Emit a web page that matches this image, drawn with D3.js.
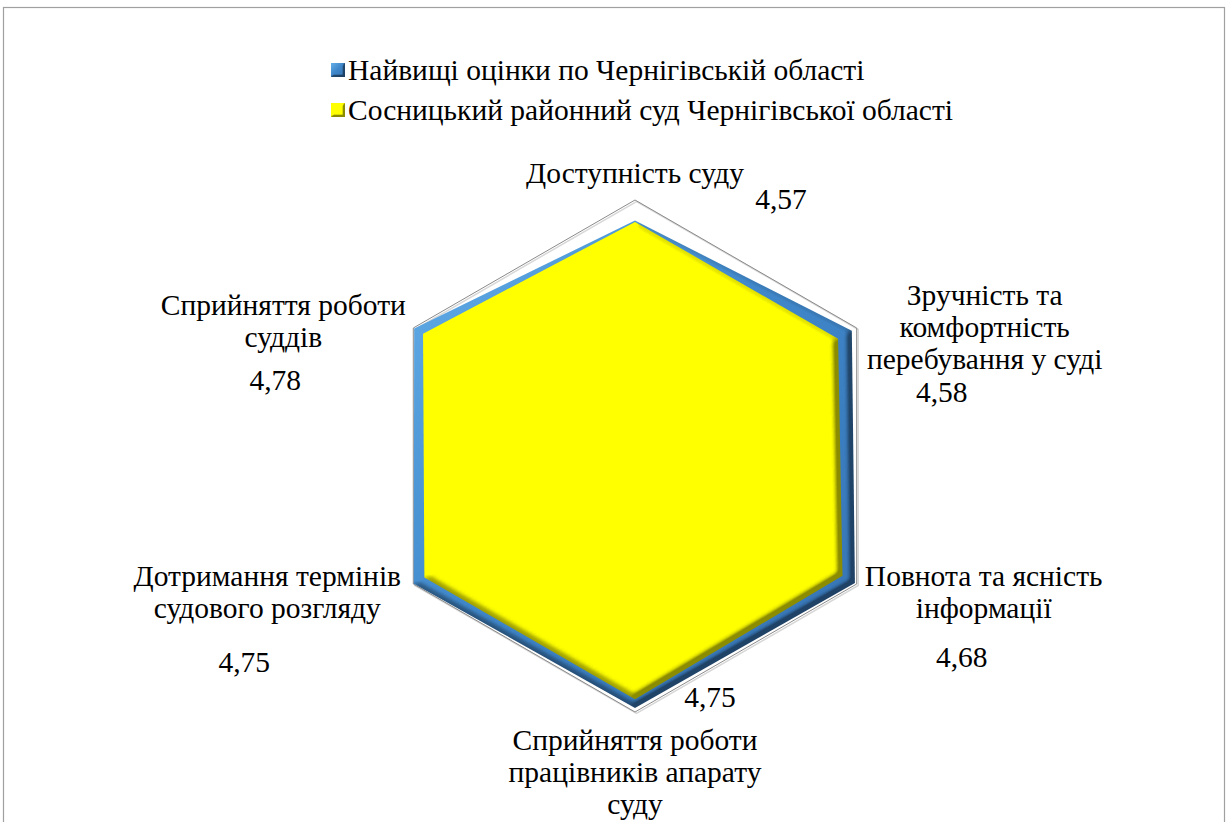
<!DOCTYPE html>
<html>
<head>
<meta charset="UTF-8">
<script src="https://cdn.jsdelivr.net/npm/d3@7"></script>
<style>
  body { margin: 0; background: #fff; }
  #wrap { position: relative; width: 1228px; height: 822px; overflow: hidden; }
  #wrap svg { position: absolute; left: 0; top: 0; }
  .lbl { position: absolute; white-space: pre; font-family: "Liberation Serif", "Times New Roman", serif; color: #000; line-height: normal; }
  .mid { transform: translateX(-50%); }
</style>
</head>
<body>
<div id="wrap"></div>
<script>
const categories = [
  ["Доступність суду"],
  ["Зручність та", "комфортність", "перебування у суді"],
  ["Повнота та ясність", "інформації"],
  ["Сприйняття роботи", "працівників апарату", "суду"],
  ["Дотримання термінів", "судового розгляду"],
  ["Сприйняття роботи", "суддів"]
];
const seriesNames = [
  "Найвищі оцінки по Чернігівській області",
  "Сосницький районний суд Чернігівської області"
];
const regionBest = [4.60, 4.89, 4.96, 4.92, 4.99, 4.98];
const courtScores = [4.57, 4.58, 4.68, 4.75, 4.75, 4.78];
const axisMax = 5;

// label placement relative to the outer vertex (layout only)
const catOffset = [[0, -17], [128, -23], [127, 2], [0, 38], [-146, 2], [-130, -13]];
const valOffset = [[146, 9], [85, 74], [105, 83], [75, -5], [-169, 88], [-138, 62]];

const W = 1228, H = 822;
const cx = 635, cy = 456, R = 256;
const FS = 29.5;
const ASC = 0.891 * FS; // baseline offset of Liberation Serif

const wrap = d3.select("#wrap");
const svg = wrap.append("svg").attr("width", W).attr("height", H);

const defs = svg.append("defs");
function bevel(id, sd, scale) {
  const f = defs.append("filter").attr("id", id)
    .attr("color-interpolation-filters", "sRGB")
    .attr("x", "-10%").attr("y", "-10%").attr("width", "120%").attr("height", "120%");
  f.append("feGaussianBlur").attr("in", "SourceAlpha").attr("stdDeviation", sd).attr("result", "blur");
  f.append("feDiffuseLighting").attr("in", "blur").attr("surfaceScale", scale)
    .attr("diffuseConstant", 1.556).attr("lighting-color", "#fff").attr("result", "diff")
    .append("feDistantLight").attr("azimuth", 225).attr("elevation", 40);
  f.append("feComposite").attr("in", "SourceGraphic").attr("in2", "diff")
    .attr("operator", "arithmetic").attr("k1", 0.45).attr("k2", 0.55).attr("k3", 0).attr("k4", 0);
}
bevel("bevelBig", 3, 8);
bevel("bevelSmall", 1.2, 4);

const grad = defs.append("linearGradient").attr("id", "blueFill")
  .attr("x1", 0).attr("y1", 0).attr("x2", 1).attr("y2", 1);
grad.append("stop").attr("offset", 0).attr("stop-color", "#63afe9");
grad.append("stop").attr("offset", 0.45).attr("stop-color", "#4088cb");
grad.append("stop").attr("offset", 1).attr("stop-color", "#3572b2");

// chart frame
svg.append("rect")
  .attr("x", 3.5).attr("y", 7.5).attr("width", 1221).attr("height", 840)
  .attr("fill", "none").attr("stroke", "#a0a0a0").attr("stroke-width", 1.2);

const r = d3.scaleLinear().domain([0, axisMax]).range([0, R]);
const angle = d3.scaleLinear().domain([0, categories.length]).range([0, 2 * Math.PI]);

const pt = (v, i) => [cx + r(v) * Math.sin(angle(i)), cy - r(v) * Math.cos(angle(i))];
const line = d3.line().curve(d3.curveLinearClosed);

// outer grid hexagon with a faint shadow
const outer = categories.map((c, i) => pt(axisMax, i));
svg.append("path")
  .attr("d", line(outer))
  .attr("transform", "translate(1.5,1.5)")
  .attr("fill", "none").attr("stroke", "#d8d8d8").attr("stroke-width", 1.5);
svg.append("path")
  .attr("d", line(outer))
  .attr("fill", "none").attr("stroke", "#8a8a8a").attr("stroke-width", 1);

// series
svg.append("path")
  .attr("d", line(regionBest.map(pt)))
  .attr("fill", "url(#blueFill)")
  .attr("filter", "url(#bevelBig)");
svg.append("path")
  .attr("d", line(courtScores.map(pt)))
  .attr("fill", "#ffff00")
  .attr("filter", "url(#bevelBig)");

// text as html on top of the svg, x = anchor, y = baseline
const label = (x, y, s, centered) => wrap.append("div")
  .attr("class", centered ? "lbl mid" : "lbl")
  .style("left", x + "px")
  .style("top", (y - ASC) + "px")
  .style("font-size", FS + "px")
  .text(s);

const fmt = d3.formatLocale({ decimal: ",", thousands: " ", grouping: [3], currency: ["", ""] }).format(".2f");

// category labels
categories.forEach((lines, i) => {
  const [x, y] = outer[i];
  lines.forEach((s, k) => label(x + catOffset[i][0], y + catOffset[i][1] + k * 32, s, true));
});

// value labels (court series)
courtScores.forEach((v, i) => {
  const [x, y] = outer[i];
  label(x + valOffset[i][0], y + valOffset[i][1], fmt(v), true);
});

// legend
const legendColors = ["url(#blueFill)", "#ffff00"];
seriesNames.forEach((name, i) => {
  svg.append("rect")
    .attr("x", 331).attr("y", 63 + i * 40)
    .attr("width", 14).attr("height", 14)
    .attr("fill", legendColors[i])
    .attr("filter", "url(#bevelSmall)");
  label(348, 80 + i * 40, name, false);
});
</script>
</body>
</html>
